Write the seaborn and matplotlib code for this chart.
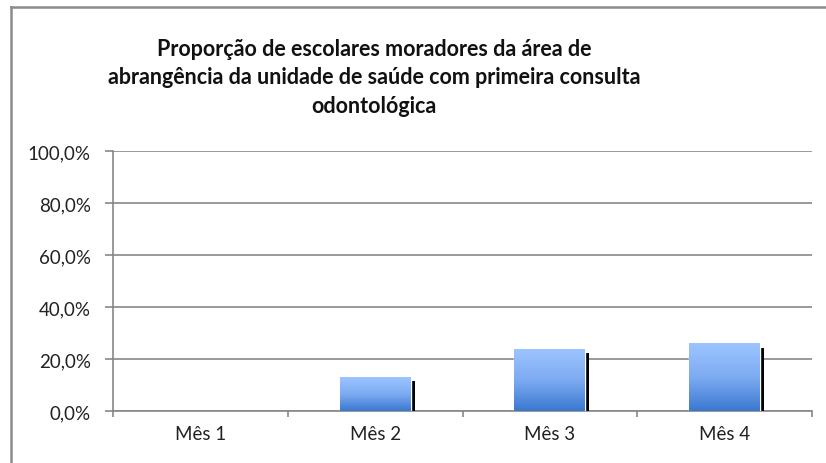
import numpy as np
import pandas as pd
import matplotlib
matplotlib.use("Agg")
import matplotlib.pyplot as plt
import matplotlib.patheffects as pe
from matplotlib.colors import LinearSegmentedColormap
from matplotlib.ticker import FixedLocator, FuncFormatter
from matplotlib.lines import Line2D
import seaborn as sns

categories = ["Mês 1", "Mês 2", "Mês 3", "Mês 4"]
values = [0.0, 13.0, 23.8, 26.0]
yticks = [0, 20, 40, 60, 80, 100]
title = ("Proporção de escolares moradores da área de\n"
         "abrangência da unidade de saúde com primeira consulta\n"
         "odontológica")

sns.set_theme(style="white")
plt.rcParams['font.family'] = ['Lato', 'DejaVu Sans']

df = pd.DataFrame({"mes": categories, "valor": values})

fig = plt.figure(figsize=(8.26, 4.64), dpi=100)
ax = fig.add_axes([113/826, 1-412/464, (812-113)/826, (412-152)/464])

sns.barplot(data=df, x="mes", y="valor", order=categories, ax=ax,
            width=0.405, color="#6fa0e8", saturation=1, zorder=3)

cmap = LinearSegmentedColormap.from_list("g", ["#3a78cf", "#7dabf2", "#9cc4ff"])
grad = np.linspace(0, 1, 256).reshape(-1, 1)
for bar in ax.patches:
    h = bar.get_height()
    if h <= 0:
        bar.set_visible(False)
        continue
    bar.set_path_effects([pe.SimplePatchShadow(offset=(3.0, -3.0), shadow_rgbFace="black", alpha=1.0),
                          pe.Normal()])
    x0 = bar.get_x(); w = bar.get_width()
    im = ax.imshow(grad, extent=[x0, x0 + w, 0, h], origin="lower", cmap=cmap,
                   aspect="auto", zorder=4, interpolation="bilinear")
    im.set_clip_path(bar)
ax.set_aspect("auto")
ax.set_xlim(-0.5, len(categories) - 0.5)
ax.set_ylim(0, 100)

ax.yaxis.set_major_locator(FixedLocator(yticks))
ax.yaxis.set_major_formatter(FuncFormatter(lambda v, p: f"{v:.1f}%".replace(".", ",")))
ax.grid(axis="y", color="#878787", linewidth=1.2, zorder=0)
ax.set_axisbelow(True)

for s in ["top", "right"]:
    ax.spines[s].set_visible(False)
for s in ["left", "bottom"]:
    ax.spines[s].set_color("#878787")
    ax.spines[s].set_linewidth(1.2)

ax.tick_params(axis="y", which="major", direction="out", length=6, width=1.2,
               color="#878787", pad=10, labelsize=13.5, labelcolor="#222222", left=True)
ax.tick_params(axis="x", which="major", length=0, pad=10, labelsize=13.5, labelcolor="#222222")
ax.xaxis.set_minor_locator(FixedLocator([-0.5, 0.5, 1.5, 2.5, 3.5]))
ax.tick_params(axis="x", which="minor", direction="out", length=4, width=1.2,
               color="#878787", bottom=True)
ax.set_xlabel("")
ax.set_ylabel("")

fig.text(374/826, 1-78/464, title, ha="center", va="center", fontsize=15.5,
         fontweight="bold", color="#111111", linespacing=1.42)

# outer frame (left and top edges visible only)
fig.add_artist(Line2D([11/826, 11/826], [0, 1-8/464], transform=fig.transFigure,
                      color="#8c8c8c", linewidth=1.8, solid_capstyle="projecting"))
fig.add_artist(Line2D([11/826, 1], [1-8/464, 1-8/464], transform=fig.transFigure,
                      color="#8c8c8c", linewidth=1.8, solid_capstyle="projecting"))

fig.savefig("out.png", dpi=100)
